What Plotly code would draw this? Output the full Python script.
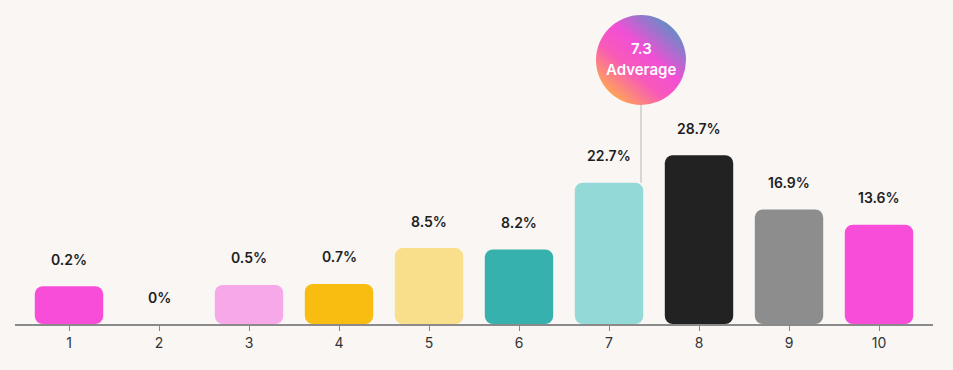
import base64
import plotly.graph_objects as go

# ---- data ----
categories = ["1", "2", "3", "4", "5", "6", "7", "8", "9", "10"]
percentages = [0.2, 0.0, 0.5, 0.7, 8.5, 8.2, 22.7, 28.7, 16.9, 13.6]
bar_colors = ["#f74dd8", "#f74dd8", "#f7a8e9", "#f9bd12", "#f9de8b",
              "#37b1ae", "#92d9d7", "#222222", "#8d8d8d", "#f74dd8"]
average_value = 7.3
average_label = "Adverage"

# ---- styling constants ----
BG = "#f9f6f4"
STUB = 8.0          # minimum visible stub (in % units) for non-zero bars
PX_PER_UNIT = 4.6   # vertical scale
PLOT_H = 324
Y_MIN = -STUB
Y_MAX = Y_MIN + PLOT_H / PX_PER_UNIT
X_MIN, X_MAX = -0.6, 9.6
PX_PER_CAT = 90.0
BUBBLE_NUDGE_PX = 5
FONT = "Inter"

idx = list(range(len(categories)))
heights = [v + STUB if v > 0 else 0 for v in percentages]
bases = [-STUB] * len(percentages)

fig = go.Figure()
fig.add_trace(go.Bar(
    x=idx, y=heights, base=bases,
    marker=dict(color=bar_colors, line=dict(width=0)),
    hoverinfo="skip",
))

# value labels
for i, v in zip(idx, percentages):
    top = v if v > 0 else -STUB
    txt = f"{v:g}%"
    fig.add_annotation(x=i, y=top, text=txt, showarrow=False, yshift=27,
                       yanchor="middle",
                       font=dict(family=FONT, size=14, color="#1e1e1e", weight=600))

# average bubble
avg_x = average_value - 1 + BUBBLE_NUDGE_PX / PX_PER_CAT  # category index position
r_px = 45
cy_units = Y_MAX - 60 / PX_PER_UNIT
r_units = r_px / PX_PER_UNIT

svg = f'''<svg xmlns="http://www.w3.org/2000/svg" width="200" height="200" viewBox="0 0 200 200">
<defs><linearGradient id="g" x1="0.15" y1="0.9" x2="0.85" y2="0.1">
<stop offset="0" stop-color="#ffa94f"/>
<stop offset="0.35" stop-color="#f85ab8"/>
<stop offset="0.6" stop-color="#f14fd6"/>
<stop offset="1" stop-color="#5f8fc6"/>
</linearGradient></defs>
<circle cx="100" cy="100" r="100" fill="url(#g)"/></svg>'''
uri = "data:image/svg+xml;base64," + base64.b64encode(svg.encode()).decode()

fig.add_shape(type="line", x0=avg_x, x1=avg_x,
              y0=percentages[6], y1=cy_units - r_units,
              line=dict(color="#cccccc", width=1.5), layer="below")

fig.add_layout_image(dict(
    source=uri, xref="x", yref="y", x=avg_x, y=cy_units + r_units,
    sizex=2 * r_px / PX_PER_CAT, sizey=2 * r_units, xanchor="center", yanchor="top",
    sizing="stretch", layer="above"))

fig.add_annotation(x=avg_x, y=cy_units, text=f"{average_value}",
                   showarrow=False, yanchor="bottom", yshift=1, borderpad=0,
                   font=dict(family=FONT, size=15, color="white", weight=600))
fig.add_annotation(x=avg_x, y=cy_units, text=average_label,
                   showarrow=False, yanchor="top", yshift=1, borderpad=0,
                   font=dict(family=FONT, size=15, color="white", weight=600))

fig.update_layout(
    width=953, height=370,
    margin=dict(l=15, r=20, t=0, b=46),
    paper_bgcolor=BG, plot_bgcolor=BG,
    showlegend=False,
    bargap=0.24,
    barcornerradius=8,
    xaxis=dict(range=[X_MIN, X_MAX], tickmode="array", tickvals=idx, ticktext=categories,
               showgrid=False, zeroline=False, showline=True, linecolor="#8a8a8a",
               linewidth=1.5, ticks="outside", ticklen=5, tickcolor="#8a8a8a",
               tickwidth=1, tickfont=dict(family=FONT, size=14, color="#333333")),
    yaxis=dict(range=[Y_MIN, Y_MAX], visible=False, showgrid=False, zeroline=False),
)

fig.write_html("out.html", config={"displayModeBar": False},
               post_script="document.body.style.margin='0';document.body.style.background='%s';" % BG)
